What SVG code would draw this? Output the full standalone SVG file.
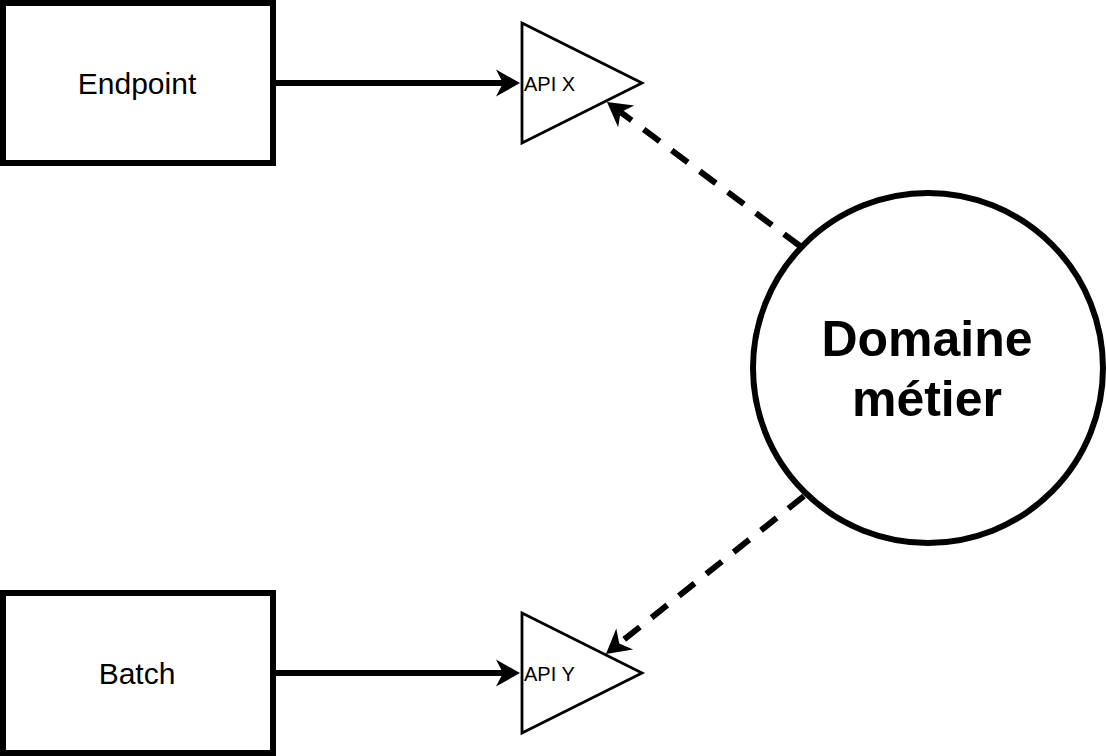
<svg xmlns="http://www.w3.org/2000/svg" width="1106" height="756" viewBox="0 0 1106 756">
  <style>
    .box { fill: #ffffff; stroke: #000000; stroke-width: 6; }
    .tri { fill: #ffffff; stroke: #000000; stroke-width: 2.8; stroke-linejoin: miter; }
    .circ { fill: #ffffff; stroke: #000000; stroke-width: 6; }
    .lbl { font-family: "Liberation Sans", Arial, sans-serif; fill: #000000; }
    .solid { fill: none; stroke: #000000; stroke-width: 6; }
    .dash { fill: none; stroke: #000000; stroke-width: 6; stroke-dasharray: 20 15; }
  </style>
  <defs>
    <marker id="arrow" markerUnits="userSpaceOnUse" orient="auto" viewBox="-12 -16 30 32" refX="0" refY="0" markerWidth="30" markerHeight="32" overflow="visible">
      <path d="M14,0 L-10,-13.5 L-3,0 L-10,13.5 Z" fill="#000000" stroke="none"/>
    </marker>
  </defs>
  <rect width="1106" height="756" fill="#ffffff"/>

  <g id="connectors">
    <path class="solid" d="M273,83 L506,83" marker-end="url(#arrow)"/>
    <path class="solid" d="M273,673 L506,673" marker-end="url(#arrow)"/>
    <path class="dash" d="M800,246 L618.2,110.4" marker-end="url(#arrow)"/>
    <path class="dash" d="M804,496 L616.9,645.3" marker-end="url(#arrow)"/>
  </g>

  <g id="endpoint">
    <rect class="box" x="3" y="3" width="270" height="160"/>
    <text class="lbl" x="137" y="94" font-size="30" text-anchor="middle">Endpoint</text>
  </g>

  <g id="batch">
    <rect class="box" x="3" y="593" width="270" height="160"/>
    <text class="lbl" x="137" y="684" font-size="30" text-anchor="middle">Batch</text>
  </g>

  <g id="api-x">
    <polygon class="tri" points="522,23 642,83 522,143"/>
    <text class="lbl" x="524" y="91" font-size="20">API X</text>
  </g>

  <g id="api-y">
    <polygon class="tri" points="522,613 642,673 522,733"/>
    <text class="lbl" x="524" y="681" font-size="20">API Y</text>
  </g>

  <g id="domaine-metier">
    <circle class="circ" cx="928" cy="368" r="175"/>
    <text class="lbl" x="927" y="356" font-size="50" font-weight="bold" text-anchor="middle">Domaine</text>
    <text class="lbl" x="927" y="416" font-size="50" font-weight="bold" text-anchor="middle">métier</text>
  </g>
</svg>
